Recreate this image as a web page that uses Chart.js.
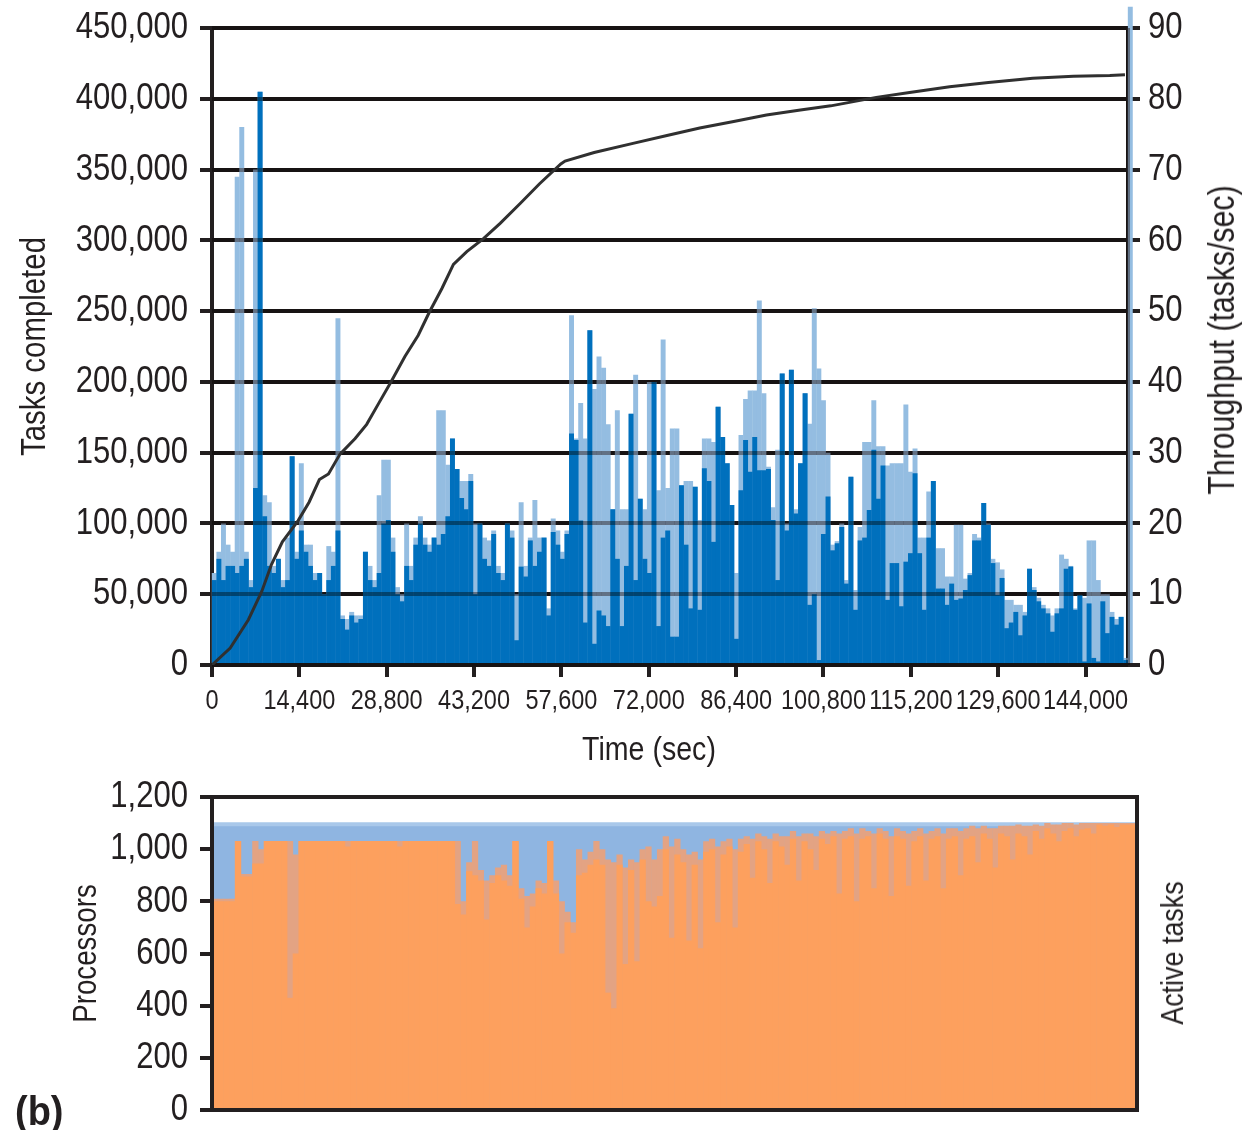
<!DOCTYPE html>
<html>
<head>
<meta charset="utf-8">
<script src="https://cdn.jsdelivr.net/npm/chart.js@4.4.1/dist/chart.umd.min.js"></script>
<style>
  html, body { margin: 0; padding: 0; background: #fff; }
  body {
    position: relative; width: 1247px; height: 1130px; overflow: hidden;
    font-family: 'Liberation Sans', Arial, sans-serif;
    color: #231f20;
  }
  canvas { position: absolute; left: 0; display: block; }
  #top { top: 0; }
  #bottom { top: 770px; }
  .rot { position: absolute; white-space: nowrap; line-height: 1; transform: translate(-50%, -50%) rotate(-90deg) scaleX(0.84); }
  .flat { position: absolute; white-space: nowrap; line-height: 1; transform: translate(-50%, -50%) scaleX(0.84); }
  .tag { position: absolute; white-space: nowrap; line-height: 1; font-weight: bold; transform: scaleX(0.95); transform-origin: 0 50%; }
</style>
</head>
<body>
<canvas id="top" width="1247" height="770"></canvas>
<canvas id="bottom" width="1247" height="375"></canvas>
<div class="flat" style="left:649px;top:748px;font-size:34px">Time (sec)</div>
<div class="rot" style="left:1222px;top:340px;font-size:36px">Throughput (tasks/sec)</div>
<div class="rot" style="left:1172px;top:953px;font-size:32px">Active tasks</div>
<div class="tag" style="left:15px;top:1091px;font-size:40px">(b)</div>
<script>
const FONT = "'Liberation Sans', Arial, sans-serif";
const INK = '#231f20';
const CONDENSE = 0.84;   // narrow lettering for all canvas text

// ---- Throughput, one value per 755 s bin (tasks/sec) ----
const BIN_SECONDS = 755;
const throughputPeak = [
  13, 16, 20, 17, 16, 69, 76, 16, 12, 70,
  81, 24, 23, 14, 15, 12, 18, 29.5, 16, 28.5,
  17, 17, 13, 13, 10, 16.8, 16, 49, 7, 6.5,
  7.5, 7, 7, 16, 14, 12, 24, 29, 29, 18,
  11, 10, 20, 14, 18, 21, 18, 17, 18, 36,
  36, 28.3, 32, 27.7, 26, 26, 27, 20, 20, 18,
  17.6, 19, 14, 13, 20, 19, 10, 23, 14, 18,
  23.3, 18, 18, 8, 20.7, 19, 16, 19, 49.4, 32,
  37, 32, 47.3, 39, 43.6, 42, 34, 22, 36, 22,
  22, 35.5, 41, 23.5, 22, 40, 40, 24.7, 46, 25,
  33.4, 33.4, 25.4, 26, 26, 25.2, 20.5, 32, 32, 31.5,
  36.5, 32.2, 28.5, 22.6, 13, 32.5, 37.6, 38.8, 38.8, 51.5,
  38.4, 28, 22.3, 30.4, 41.2, 20, 41.7, 22, 28.5, 38.4,
  34.1, 50.4, 41.9, 37.4, 30, 17, 17.5, 20, 12, 26.6,
  10.6, 19.5, 31.5, 31.5, 37.4, 30.9, 30.9, 28.2, 28.5, 28.5,
  28.5, 36.8, 27.3, 30.6, 18, 18, 24.5, 26, 16.5, 16.5,
  12.5, 12.5, 19.8, 19.8, 12.2, 13, 18.5, 18, 22.9, 20,
  15, 14.5, 13.5, 9.2, 9.2, 8.5, 8.5, 7.5, 13.6, 11,
  9.5, 8.5, 8, 7, 8, 15.6, 15, 14, 8, 9.9,
  9.5, 17.6, 17.6, 12, 10, 10, 7.5, 6.5, 6.8, 1,
  93
];
const throughputAvg = [
  12, 15, 12, 14, 14, 13, 14, 15, 11, 25,
  81, 21, 14, 13, 15, 11, 12, 29.5, 15, 19,
  16, 14, 12, 13, 10, 12, 14, 19, 6.5, 5,
  7, 6, 6.5, 16, 12, 11, 13, 20, 20.5, 16,
  10, 9, 14, 12, 17, 20, 17, 16, 18, 17,
  18.5, 21, 32, 27.7, 23.6, 22, 26, 10, 20, 15,
  14, 18.5, 13, 12, 20, 18, 3.5, 13.9, 12.5, 17.6,
  14, 16, 18, 7, 18.8, 17, 15, 18.5, 32.7, 31.8,
  20.4, 6, 47.3, 3, 7.7, 7, 5.5, 22, 15, 5.5,
  14, 35.5, 12, 23.5, 15, 13, 40, 5.5, 18, 19,
  4, 4, 25.4, 17, 8, 25.2, 7.8, 27.8, 26, 17.4,
  36.5, 32.2, 28.5, 22.6, 3.7, 24.7, 31.8, 27.3, 32.2, 27.5,
  27.5, 27.7, 20.5, 12, 41.2, 19, 41.7, 21.4, 28.5, 38.4,
  8.5, 10, 0.7, 18.5, 23.8, 16.2, 17.2, 19.5, 11.5, 26.6,
  7.8, 17.6, 18, 21.9, 30.4, 23.5, 28.2, 9.2, 14.4, 14.4,
  8.3, 14.6, 15.8, 27.1, 15.8, 7.8, 18, 26, 10.8, 10.8,
  8.5, 11.5, 9.2, 9.4, 10.6, 12.7, 17.6, 17.6, 22.9, 19.8,
  14.4, 9.9, 12.3, 5.2, 6, 7.5, 4.2, 7, 13.6, 10.6,
  9, 8, 7.3, 4.7, 7.3, 8, 13.6, 13.9, 7.8, 9.9,
  0.5, 8.7, 1, 0.5, 9, 4.5, 6.8, 5.7, 6.8, 0.7,
  0
];

// ---- Cumulative tasks completed ----
const taskTimes = [0, 3000, 6000, 8200, 9800, 11600, 14200, 16000, 17700, 19200,
  21100, 23600, 25500, 27500, 29500, 31800, 34000, 35800, 37900, 39800,
  42000, 44700, 47500, 50800, 54000, 57500, 58200, 63000, 69400, 75000,
  80400, 86000, 91400, 97000, 102000, 109500, 115000, 121600, 128000, 135300,
  142000, 148000, 150500];
const tasksCompleted = [0, 12000, 32000, 52000, 71000, 87000, 102000, 115000, 131000, 135000,
  149000, 160000, 170000, 185000, 200000, 218000, 233000, 249000, 266000, 283000,
  292000, 301000, 312000, 326000, 340000, 354000, 356000, 362000, 368500, 374000,
  379300, 384000, 388500, 392000, 395000, 401000, 404500, 408500, 411500, 414500,
  416000, 416500, 417000];

const timeTicks = [0, 14400, 28800, 43200, 57600, 72000, 86400, 100800, 115200, 129600, 144000];

// ---- Processors and active tasks, one value per 945 s bin ----
const ACTIVE_BIN_SECONDS = 945;
const processorTimes = [0, 151200];
const processorCount = [1096, 1096];
const activeTasksMax = [
  810, 810, 810, 810, 1031, 905, 905, 1031, 1000, 1031,
  1031, 1031, 1031, 1031, 980, 1031, 1031, 1031, 1031, 1031,
  1031, 1031, 1031, 1031, 1031, 1031, 1031, 1031, 1031, 1031,
  1031, 1031, 1031, 1031, 1031, 1031, 1031, 1031, 1031, 1031,
  1031, 1031, 1031, 800, 950, 1031, 920, 880, 900, 930,
  940, 900, 1031, 850, 820, 830, 880, 870, 1031, 880,
  800, 760, 720, 1000, 960, 990, 1031, 1000, 960, 950,
  980, 930, 960, 950, 1000, 1010, 960, 1000, 1050, 1010,
  1040, 1000, 980, 990, 960, 1030, 1040, 1010, 1030, 1040,
  1000, 1040, 1050, 1040, 1060, 1050, 1040, 1060, 1050, 1050,
  1070, 1050, 1060, 1060, 1050, 1070, 1060, 1070, 1060, 1070,
  1080, 1060, 1080, 1070, 1060, 1080, 1070, 1050, 1080, 1070,
  1060, 1070, 1080, 1060, 1070, 1080, 1060, 1080, 1080, 1070,
  1080, 1090, 1080, 1090, 1080, 1080, 1090, 1090, 1090, 1095,
  1090, 1090, 1095, 1090, 1100, 1095, 1095, 1100, 1100, 1095,
  1100, 1100, 1100, 1100, 1100, 1100, 1100, 1100, 1100, 1100
];
const activeTasksMin = [
  800, 800, 800, 800, 1031, 895, 895, 945, 945, 1031,
  1031, 1031, 1031, 430, 600, 1031, 1031, 1031, 1031, 1031,
  1031, 1031, 1031, 1010, 1031, 1031, 1031, 1031, 1031, 1031,
  1031, 1031, 1010, 1031, 1031, 1031, 1031, 1031, 1031, 1031,
  1031, 1031, 790, 750, 915, 900, 880, 730, 870, 900,
  880, 860, 1031, 810, 700, 780, 850, 830, 1031, 830,
  600, 720, 680, 900, 910, 940, 960, 940, 450, 390,
  940, 560, 920, 570, 960, 800, 780, 820, 1000, 660,
  980, 950, 650, 940, 620, 990, 1000, 720, 980, 1010,
  700, 990, 1020, 890, 1030, 1000, 870, 1030, 1010, 940,
  1040, 880, 1030, 1000, 920, 1040, 1020, 1050, 830, 1040,
  1050, 800, 1040, 1050, 850, 1060, 1040, 820, 1050, 1040,
  860, 1030, 1050, 880, 1040, 1050, 850, 1040, 1050, 900,
  1040, 1050, 950, 1060, 1040, 930, 1060, 1050, 960, 1060,
  1050, 980, 1070, 1040, 1080, 1060, 1030, 1070, 1080, 1050,
  1075, 1080, 1060, 1095, 1090, 1095, 1085, 1095, 1095, 1095
];

// Narrow lettering: every canvas label is squeezed horizontally around its anchor
(function () {
  const proto = CanvasRenderingContext2D.prototype;
  const plainFill = proto.fillText;
  proto.fillText = function (text, x, y, maxWidth) {
    this.save();
    this.translate(x, y);
    this.scale(CONDENSE, 1);
    if (maxWidth === undefined || maxWidth === null) plainFill.call(this, text, 0, 0);
    else plainFill.call(this, text, 0, 0, maxWidth / CONDENSE);
    this.restore();
  };
})();

Chart.defaults.font.family = FONT;
Chart.defaults.color = INK;

const binPoints = (vals, bin) => vals.map((v, i) => ({ x: (i + 0.5) * bin, y: v }));
const thousands = v => Number(v).toLocaleString('en-US');
// fixed axis box: width plus small end paddings so the plot area lands where intended
const fixWidth = w => s => { s.width = w; s.paddingTop = 20; s.paddingBottom = 20; };

// Grid lines show through the bar mass as darker bands
const gridOverBars = {
  id: 'gridOverBars',
  afterDatasetDraw(chart, args) {
    if (args.index !== 1) return;
    const { ctx, chartArea: a, scales } = chart;
    const ys = scales.yRate;
    ctx.save();
    ctx.globalCompositeOperation = 'multiply';
    ctx.strokeStyle = 'rgb(168,152,150)';
    ctx.lineWidth = 4;
    ctx.beginPath();
    ys.ticks.forEach(t => {
      const py = Math.round(ys.getPixelForValue(t.value));
      ctx.moveTo(a.left, py);
      ctx.lineTo(a.right, py);
    });
    ctx.moveTo(Math.round(a.right), a.top);
    ctx.lineTo(Math.round(a.right), a.bottom);
    ctx.stroke();
    ctx.restore();
  }
};

new Chart(document.getElementById('top'), {
  type: 'bar',
  data: {
    datasets: [
      { label: 'Throughput (peak)', data: binPoints(throughputPeak, BIN_SECONDS),
        xAxisID: 'x', yAxisID: 'yRate', backgroundColor: '#94bde1', order: 3, clip: false },
      { label: 'Throughput', data: binPoints(throughputAvg, BIN_SECONDS),
        xAxisID: 'x', yAxisID: 'yRate', backgroundColor: '#0070bd', order: 2 },
      { type: 'line', label: 'Tasks completed',
        data: taskTimes.map((t, i) => ({ x: t, y: tasksCompleted[i] })),
        xAxisID: 'x', yAxisID: 'yTasks', borderColor: '#303030', borderWidth: 3,
        pointRadius: 0, tension: 0, order: 1 }
    ]
  },
  options: {
    responsive: false, animation: false, devicePixelRatio: 1,
    layout: { padding: { top: 28, left: 0, right: 0, bottom: 0 } },
    plugins: { legend: { display: false }, tooltip: { enabled: false } },
    datasets: { bar: { barPercentage: 1.08, categoryPercentage: 1, grouped: false, borderWidth: 0 } },
    scales: {
      x: {
        type: 'linear', position: 'bottom', min: 0, max: 151000, offset: false,
        afterBuildTicks: s => { s.ticks = timeTicks.map(v => ({ value: v })); },
        afterFit: s => { s.height = 105; },
        ticks: { font: { size: 28 }, color: INK, padding: 7, maxRotation: 0, autoSkip: false, callback: thousands },
        grid: { offset: false, drawOnChartArea: false, drawTicks: true, tickLength: 12, color: INK, lineWidth: 4 },
        border: { display: true, color: INK, width: 4 }
      },
      yTasks: {
        type: 'linear', position: 'left', min: 0, max: 450000,
        afterFit: fixWidth(212),
        ticks: { stepSize: 50000, font: { size: 37 }, color: INK, padding: 12, callback: thousands },
        grid: { color: INK, lineWidth: 4, tickLength: 12 },
        border: { color: INK, width: 4 },
        title: { display: true, text: 'Tasks completed', font: { size: 35 }, color: INK, padding: { top: 14, bottom: 0 } }
      },
      yRate: {
        type: 'linear', position: 'right', min: 0, max: 90,
        afterFit: fixWidth(119),
        ticks: { stepSize: 10, font: { size: 37 }, color: INK, padding: 8 },
        grid: { drawOnChartArea: false, color: INK, lineWidth: 4, tickLength: 12 },
        border: { color: INK, width: 4 }
      }
    }
  },
  plugins: [gridOverBars]
});

// Closed frame around the lower panel
const frame = {
  id: 'frame',
  afterDatasetsDraw(chart) {
    const { ctx, chartArea: a } = chart;
    ctx.save();
    ctx.strokeStyle = INK;
    ctx.lineWidth = 4;
    ctx.strokeRect(Math.round(a.left), Math.round(a.top), Math.round(a.right - a.left), Math.round(a.bottom - a.top));
    ctx.restore();
  }
};

new Chart(document.getElementById('bottom'), {
  type: 'bar',
  data: {
    datasets: [
      { type: 'line', label: 'Processors',
        data: processorTimes.map((t, i) => ({ x: t, y: processorCount[i] })),
        borderColor: '#a9c8ea', borderWidth: 4, backgroundColor: '#8fb5e1',
        fill: 'origin', pointRadius: 0, order: 3 },
      { label: 'Active tasks (max)', data: binPoints(activeTasksMax, ACTIVE_BIN_SECONDS),
        backgroundColor: '#e3a383', order: 2 },
      { label: 'Active tasks', data: binPoints(activeTasksMin, ACTIVE_BIN_SECONDS),
        backgroundColor: '#fda05e', order: 1 }
    ]
  },
  options: {
    responsive: false, animation: false, devicePixelRatio: 1,
    layout: { padding: { top: 27, right: 110, bottom: 35, left: 0 } },
    plugins: { legend: { display: false }, tooltip: { enabled: false } },
    datasets: { bar: { barPercentage: 1.08, categoryPercentage: 1, grouped: false, borderWidth: 0 } },
    scales: {
      x: { type: 'linear', display: false, min: 0, max: 151200, offset: false, grid: { offset: false } },
      y: {
        type: 'linear', position: 'left', min: 0, max: 1200,
        afterFit: fixWidth(212),
        ticks: { stepSize: 200, font: { size: 37 }, color: INK, padding: 12, callback: thousands },
        grid: { drawOnChartArea: false, color: INK, lineWidth: 4, tickLength: 12 },
        border: { color: INK, width: 4 },
        title: { display: true, text: 'Processors', font: { size: 33 }, color: INK, padding: { top: 67, bottom: 0 } }
      }
    }
  },
  plugins: [frame]
});
</script>
</body>
</html>
